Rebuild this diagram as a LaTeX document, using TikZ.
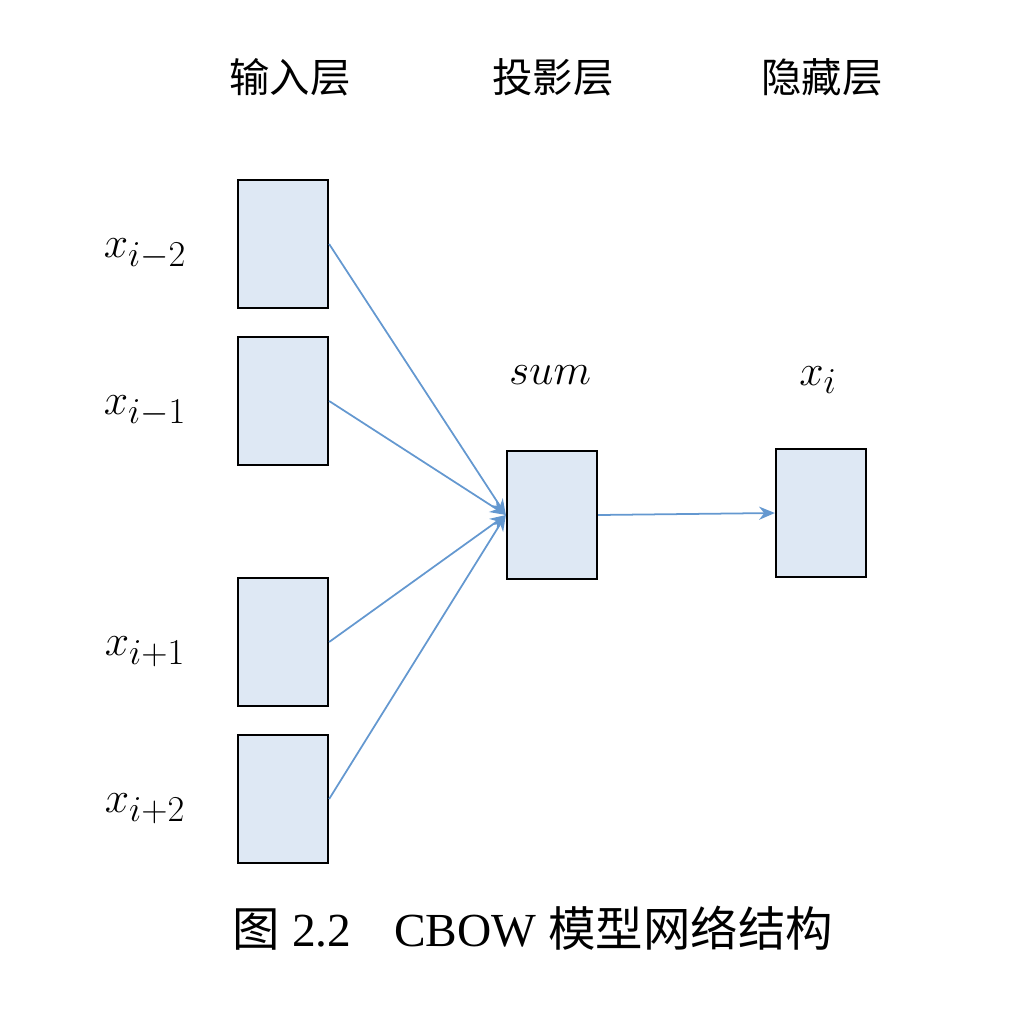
\documentclass[tikz,border=0pt]{standalone}
\usepackage{amsmath}
\usepackage{fontspec}
\setmainfont{Liberation Serif}
\newfontfamily\cjk{Noto Sans CJK SC}
\usetikzlibrary{arrows.meta}

\definecolor{boxfill}{RGB}{222,232,244}
\definecolor{arrblue}{RGB}{100,152,208}

\begin{document}
\begin{tikzpicture}[x=0.02cm, y=-0.02cm,
    cell/.style={draw=black, line width=1.3pt, fill=boxfill, minimum width=1.8cm, minimum height=2.56cm, inner sep=0pt},
    arr/.style={arrblue, line width=1pt, -{Stealth[length=9pt, width=7.5pt]}},
    layer/.style={font=\cjk\fontsize{23}{28}\selectfont},
    var/.style={font=\fontsize{28}{32}\selectfont}]
    \useasboundingbox (0,0) rectangle (1016,1008);

    % Layer titles
    \node[layer] (tin) at (290,77) {输入层};
    \node[layer] (tproj) at (553,77) {投影层};
    \node[layer] (thid) at (822,77) {隐藏层};

    % Input layer
    \foreach \i/\y/\s in {1/244/i-2, 2/401/i-1, 3/642/i+1, 4/799/i+2} {
        \node[cell] (in\i) at (283,\y) {};
        \node[var] (lab\i) at (145,\y+10) {$x_{\s}$};
    }

    % Projection and hidden layer
    \node[cell] (sum) at (552,515) {};
    \node[var] (lsum) at (550,375) {$sum$};
    \node[cell] (hid) at (821,513) {};
    \node[var] (lhid) at (818,380) {$x_{i}$};

    % Connections
    \foreach \i in {1,...,4}
        \draw[arr] (in\i.east) -- (sum.west);
    \draw[arr] (sum.east) -- (hid.west);

    % Caption
    \node[font=\fontsize{27}{32}\selectfont] (cap) at (533,928) {{\cjk 图} 2.2\hspace{0.9em}CBOW {\cjk 模型网络结构}};
\end{tikzpicture}
\end{document}
